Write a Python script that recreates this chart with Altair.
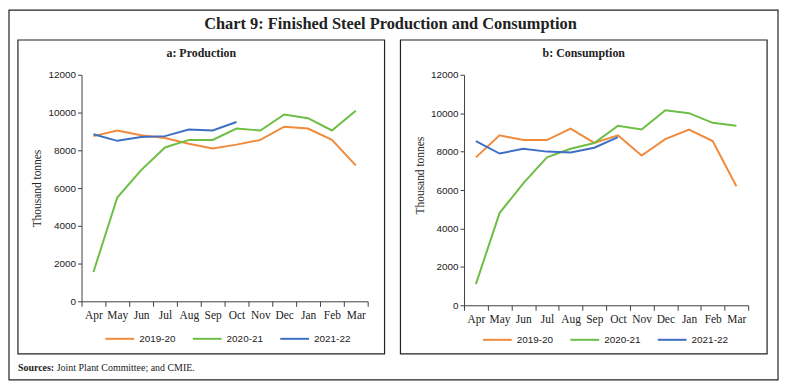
import altair as alt
import pandas as pd

months = ["Apr", "May", "Jun", "Jul", "Aug", "Sep", "Oct", "Nov", "Dec", "Jan", "Feb", "Mar"]
series = ["2019-20", "2020-21", "2021-22"]
colors = ["#F08A3C", "#6DBE45", "#3F6FC4"]

prod_2019 = [8750, 9050, 8800, 8650, 8350, 8100, 8300, 8550, 9250, 9150, 8550, 7200]
prod_2020 = [1550, 5500, 6950, 8150, 8550, 8550, 9150, 9050, 9900, 9700, 9050, 10100]
prod_2021 = [8850, 8500, 8700, 8750, 9100, 9050, 9500]

cons_2019 = [7700, 8850, 8600, 8600, 9200, 8450, 8850, 7800, 8650, 9150, 8550, 6200]
cons_2020 = [1100, 4800, 6350, 7700, 8150, 8450, 9350, 9150, 10150, 10000, 9500, 9350]
cons_2021 = [8550, 7900, 8150, 8000, 7950, 8200, 8750]

y_ticks = [0, 2000, 4000, 6000, 8000, 10000, 12000]


def long_df(a, b, c):
    rows = []
    for s, vals in zip(series, [a, b, c]):
        for m, v in zip(months, vals):
            rows.append({"Month": m, "Series": s, "Value": v})
    return pd.DataFrame(rows)


prod_df = long_df(prod_2019, prod_2020, prod_2021)
cons_df = long_df(cons_2019, cons_2020, cons_2021)

SERIF = "Liberation Serif"
SANS = "Liberation Sans"
AX = "#404040"


def one(d):
    return pd.DataFrame([d])


def panel(df, title, w, h, legx, legy, ytitle_y, extra=None):
    lines = alt.Chart(df).mark_line(strokeWidth=2).encode(
        x=alt.X("Month:N", sort=months, bandPosition=0.5,
                scale=alt.Scale(type="band", paddingInner=0, paddingOuter=0),
                axis=alt.Axis(title=None, tickBand="extent", labelAngle=0, tickSize=5,
                              labelFont=SERIF, labelFontSize=11.5, labelColor="#222",
                              labelPadding=3, domainColor=AX, tickColor=AX)),
        y=alt.Y("Value:Q", scale=alt.Scale(domain=[0, 12000], nice=False),
                axis=alt.Axis(values=y_ticks, format="d", grid=False, tickSize=4,
                              labelFont=SANS, labelFontSize=10, labelColor="#222",
                              labelPadding=2, domainColor=AX, tickColor=AX,
                              title="Thousand tonnes", titleFont=SERIF, titleFontSize=11.5,
                              titleFontWeight="normal", titleColor="#222",
                              titleX=-44, titleY=ytitle_y, titleAlign="center",
                              titleBaseline="middle", titleAngle=270)),
        color=alt.Color("Series:N", scale=alt.Scale(domain=series, range=colors),
                        legend=alt.Legend(orient="none", legendX=legx, legendY=legy,
                                          direction="horizontal", title=None,
                                          symbolType="stroke", symbolSize=841,
                                          symbolStrokeWidth=2, labelFont=SANS,
                                          labelFontSize=10, labelColor="#222",
                                          labelOffset=4, columnPadding=13)),
    ).properties(width=w, height=h)

    border = alt.Chart(one({"k": 1})).mark_rect(fillOpacity=0, stroke="#222", strokeWidth=1.2).encode(
        x=alt.value(-64), x2=alt.value(305), y=alt.value(-35), y2=alt.value(281))
    ttl = alt.Chart(one({"t": title})).mark_text(font=SERIF, fontSize=12, fontWeight="bold",
                                                  color="#222", align="center", baseline="middle").encode(
        text="t:N", x=alt.value(120.5), y=alt.value(-22))
    layers = [lines, border, ttl]
    if extra:
        layers += extra
    return alt.layer(*layers)


outer = alt.Chart(one({"k": 1})).mark_rect(fillOpacity=0, stroke="#222", strokeWidth=1.2).encode(
    x=alt.value(-73), x2=alt.value(701), y=alt.value(-65), y2=alt.value(307))
main_title = alt.Chart(one({"t": "Chart 9: Finished Steel Production and Consumption"})).mark_text(
    font=SERIF, fontSize=16.5, fontWeight="bold", color="#222", align="center", baseline="middle").encode(
    text="t:N", x=alt.value(311), y=alt.value(-51))
src_bold = alt.Chart(one({"t": "Sources:"})).mark_text(
    font=SERIF, fontSize=10, fontWeight="bold", color="#222", align="left", baseline="middle").encode(
    text="t:N", x=alt.value(-64), y=alt.value(295))
src_text = alt.Chart(one({"t": "Joint Plant Committee; and CMIE."})).mark_text(
    font=SERIF, fontSize=10, color="#222", align="left", baseline="middle").encode(
    text="t:N", x=alt.value(-25), y=alt.value(295))

left = panel(prod_df, "a: Production", 288, 228, 23, 250, 114,
             extra=[outer, main_title, src_bold, src_text])
right = panel(cons_df, "b: Consumption", 286, 232, 18, 251, 101)

chart = alt.hconcat(left, right, spacing=97, bounds="flush").resolve_scale(
    color="independent").resolve_legend(color="independent").properties(
    padding=0, background="white").configure_view(strokeWidth=0)

chart.save("out.html", embed_options={"renderer": "svg", "actions": False})
